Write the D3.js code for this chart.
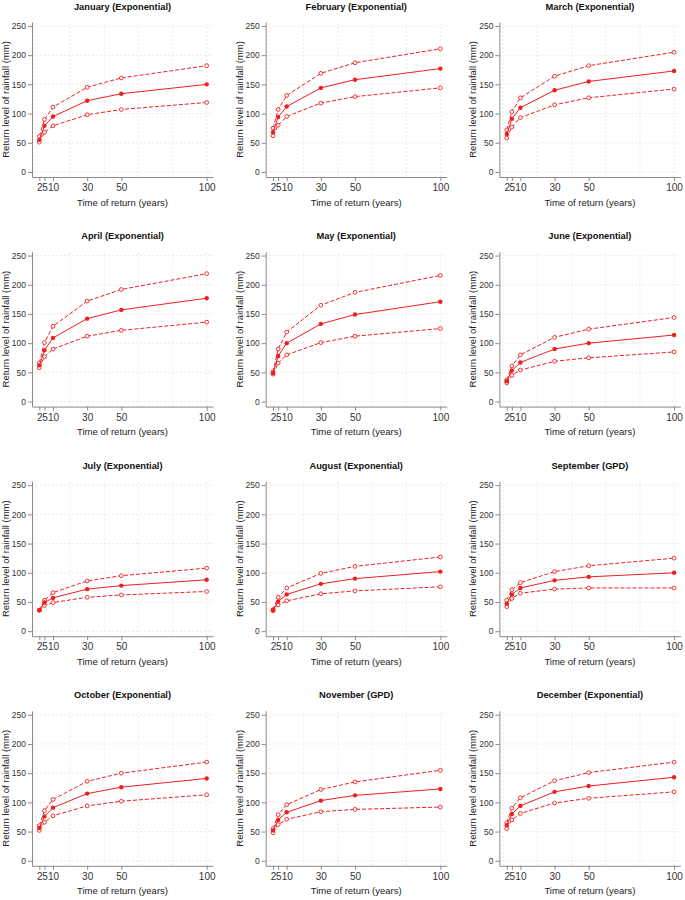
<!DOCTYPE html>
<html>
<head>
<meta charset="utf-8">
<script src="https://cdn.jsdelivr.net/npm/d3@7"></script>
<style>
  html, body { margin: 0; padding: 0; background: #fff; }
  svg { display: block; font-family: "Liberation Sans", Arial, sans-serif; }
</style>
</head>
<body>
<div id="chart"></div>
<script>
// ---------- data ----------
const months = ["January","February","March","April","May","June",
                "July","August","September","October","November","December"];
const models = ["Exponential","Exponential","Exponential","Exponential","Exponential","Exponential",
                "Exponential","Exponential","GPD","Exponential","GPD","Exponential"];
const returnPeriods = [2, 5, 10, 30, 50, 100];
const xTickLabels = ["2","5","10","30","50","100"];
const yTickValues = [0, 50, 100, 150, 200, 250];

const estimate = [
  [55, 79, 95, 122, 134, 150],   // Jan
  [68, 94, 112, 144, 158, 177],  // Feb
  [65, 91, 110, 140, 155, 173],  // Mar
  [62, 88, 109, 142, 157, 177],  // Apr
  [49, 78, 100, 133, 149, 171],  // May
  [35, 53, 67, 90, 100, 114],    // Jun
  [36, 49, 57, 72, 78, 88],      // Jul
  [36, 51, 63, 81, 90, 102],     // Aug
  [47, 63, 74, 87, 93, 100],     // Sep
  [56, 76, 91, 115, 126, 141],   // Oct
  [52, 70, 83, 103, 112, 123],   // Nov
  [61, 80, 94, 118, 128, 143]    // Dec
];
const upperCI = [
  [61, 90, 111, 145, 161, 182],
  [75, 107, 131, 169, 187, 211],
  [72, 103, 127, 164, 182, 205],
  [66, 101, 129, 172, 192, 219],
  [51, 90, 119, 165, 187, 216],
  [37, 61, 80, 110, 124, 144],
  [36, 53, 66, 86, 95, 108],
  [37, 58, 74, 99, 111, 127],
  [53, 71, 83, 102, 112, 125],
  [60, 86, 105, 136, 150, 169],
  [55, 79, 96, 122, 135, 155],
  [65, 90, 108, 137, 151, 169]
];
const lowerCI = [
  [51, 68, 79, 98, 107, 119],
  [62, 80, 95, 118, 129, 144],
  [58, 77, 93, 115, 127, 142],
  [58, 77, 90, 112, 122, 136],
  [47, 66, 80, 101, 112, 125],
  [32, 45, 54, 69, 75, 85],
  [36, 44, 49, 58, 62, 68],
  [35, 45, 52, 64, 69, 76],
  [42, 56, 65, 72, 74, 74],
  [52, 66, 77, 94, 102, 113],
  [48, 62, 71, 84, 88, 92],
  [55, 70, 81, 99, 107, 118]
];

// ---------- layout ----------
const W = 685, H = 900;
const colStep = 233.7, rowStep = 229.6;
const red = "#f01e1e";
const axisColor = "#8a8a8a";
const gridColor = "#e4e4e4";

const svg = d3.select("#chart").append("svg")
  .attr("width", W).attr("height", H);

const x = d3.scaleLinear().domain([-2.3, 103.7]).range([32, 213]);
const y = d3.scaleLinear().domain([-8.6, 256.8]).range([177, 22]);

const line = d3.line().x((d, i) => x(returnPeriods[i])).y(d => y(d));

months.forEach((m, k) => {
  const c = k % 3, r = Math.floor(k / 3);
  const g = svg.append("g").attr("transform", `translate(${c * colStep},${r * rowStep})`);

  // grid
  g.append("g").selectAll("line.h").data(yTickValues).join("line")
    .attr("x1", x.range()[0]).attr("x2", x.range()[1])
    .attr("y1", d => y(d)).attr("y2", d => y(d))
    .attr("stroke", gridColor).attr("stroke-width", 0.8).attr("stroke-dasharray", "2,2");
  g.append("g").selectAll("line.v").data([0, 20, 40, 60, 80, 100]).join("line")
    .attr("y1", y.range()[0]).attr("y2", y.range()[1])
    .attr("x1", d => x(d)).attr("x2", d => x(d))
    .attr("stroke", gridColor).attr("stroke-width", 0.8).attr("stroke-dasharray", "2,2");

  // axes
  const ya = g.append("g").attr("transform", `translate(${x.range()[0]},0)`)
    .call(d3.axisLeft(y).tickValues(yTickValues).tickSize(4).tickSizeOuter(0).tickPadding(2));
  const xa = g.append("g").attr("transform", `translate(0,${y.range()[0]})`)
    .call(d3.axisBottom(x).tickValues(returnPeriods).tickFormat((d, i) => xTickLabels[i])
      .tickSize(4).tickSizeOuter(0).tickPadding(3));
  [ya, xa].forEach(a => {
    a.select(".domain").attr("stroke", axisColor).attr("stroke-width", 1);
    a.selectAll(".tick line").attr("stroke", axisColor);
    a.selectAll(".tick text").attr("fill", "#333")
      .style("font-family", '"Liberation Sans", Arial, sans-serif');
  });
  ya.selectAll(".tick text").style("font-size", "8.5px");
  xa.selectAll(".tick text").style("font-size", "10px");

  // titles
  const cx = (x.range()[0] + x.range()[1]) / 2;
  g.append("text").attr("x", cx).attr("y", 9.5).attr("text-anchor", "middle")
    .style("font-size", "9.3px").style("font-weight", "bold").attr("fill", "#111")
    .text(`${m} (${models[k]})`);
  g.append("text").attr("x", cx).attr("y", 205.5).attr("text-anchor", "middle")
    .style("font-size", "9.5px").attr("fill", "#222").text("Time of return (years)");
  const cy = (y.range()[0] + y.range()[1]) / 2;
  g.append("text").attr("transform", `translate(9,${cy}) rotate(-90)`).attr("text-anchor", "middle")
    .style("font-size", "9.5px").attr("fill", "#222").text("Return level of rainfall (mm)");

  // CI lines
  [upperCI[k], lowerCI[k]].forEach(arr => {
    g.append("path").datum(arr).attr("d", line).attr("fill", "none")
      .attr("stroke", red).attr("stroke-width", 1).attr("stroke-dasharray", "4,2");
    g.append("g").selectAll("circle").data(arr).join("circle")
      .attr("cx", (d, i) => x(returnPeriods[i])).attr("cy", d => y(d)).attr("r", 1.9)
      .attr("fill", "#fff").attr("stroke", red).attr("stroke-width", 0.9);
  });
  // estimate
  g.append("path").datum(estimate[k]).attr("d", line).attr("fill", "none")
    .attr("stroke", red).attr("stroke-width", 1);
  g.append("g").selectAll("circle").data(estimate[k]).join("circle")
    .attr("cx", (d, i) => x(returnPeriods[i])).attr("cy", d => y(d)).attr("r", 2.2)
    .attr("fill", red);
});
</script>
</body>
</html>
